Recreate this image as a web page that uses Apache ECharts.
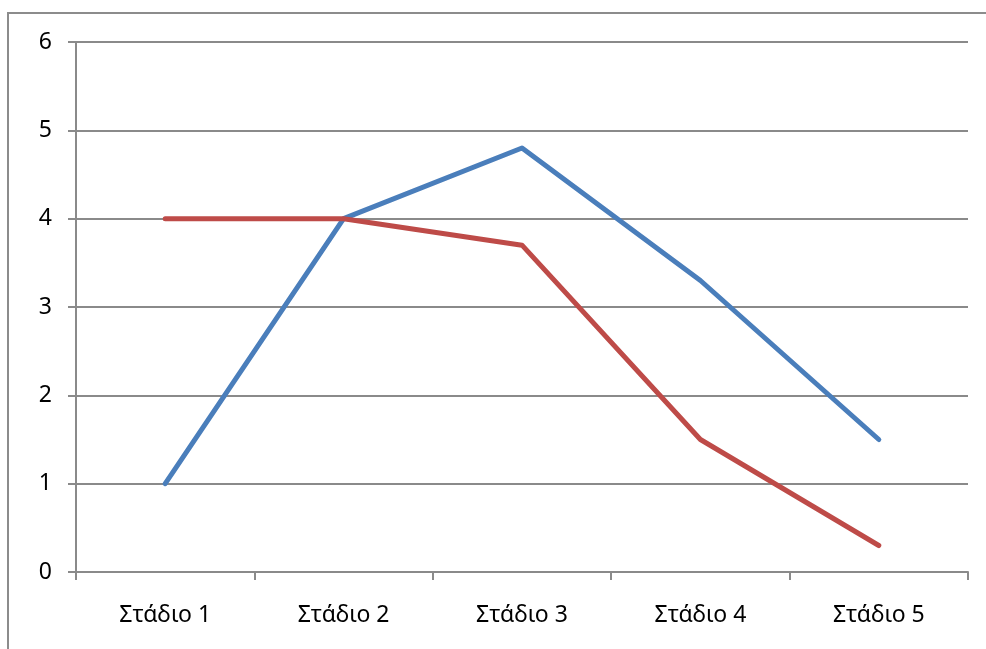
<!DOCTYPE html>
<html>
<head>
<meta charset="utf-8">
<script src="https://cdn.jsdelivr.net/npm/echarts@6/dist/echarts.min.js"></script>
<style>
  html, body { margin: 0; padding: 0; background: #fff; }
  #chart { width: 986px; height: 649px; }
</style>
</head>
<body>
<div id="chart"></div>
<script>
// Stages along the horizontal axis
const categories = ['Στάδιο 1', 'Στάδιο 2', 'Στάδιο 3', 'Στάδιο 4', 'Στάδιο 5'];
// Two series of scores per stage
const seriesBlue = [1, 4, 4.8, 3.3, 1.5];
const seriesRed = [4, 4, 3.7, 1.5, 0.3];

const chart = echarts.init(document.getElementById('chart'));
const font = '"Noto Sans", "DejaVu Sans", sans-serif';
const axisGray = '#8a8a8a';

chart.setOption({
  animation: false,
  backgroundColor: '#fff',
  graphic: [{
    type: 'rect',
    shape: { x: 8, y: 13, width: 1100, height: 800 },
    style: { fill: 'none', stroke: '#8c8c8c', lineWidth: 2 },
    silent: true
  }],
  grid: { left: 76, right: 18, top: 42, bottom: 77, containLabel: false },
  xAxis: {
    type: 'category',
    data: categories,
    boundaryGap: true,
    axisLine: { show: true, lineStyle: { color: axisGray, width: 2 } },
    axisTick: { show: true, length: 8, inside: false, lineStyle: { color: axisGray, width: 2 } },
    axisLabel: { color: '#000', fontFamily: font, fontSize: 23, margin: 32 },
    splitLine: { show: false }
  },
  yAxis: {
    type: 'value',
    min: 0, max: 6, interval: 1,
    axisLine: { show: true, lineStyle: { color: axisGray, width: 2 } },
    axisTick: { show: true, length: 8, lineStyle: { color: axisGray, width: 2 } },
    axisLabel: { color: '#000', fontFamily: font, fontSize: 23, margin: 24 },
    splitLine: { show: true, lineStyle: { color: axisGray, width: 2 } }
  },
  series: [
    {
      type: 'line', data: seriesBlue, symbol: 'none',
      lineStyle: { color: '#4a7ebb', width: 5, cap: 'round', join: 'round' },
      itemStyle: { color: '#4a7ebb' }
    },
    {
      type: 'line', data: seriesRed, symbol: 'none',
      lineStyle: { color: '#be4b48', width: 5, cap: 'round', join: 'round' },
      itemStyle: { color: '#be4b48' }
    }
  ]
});
</script>
</body>
</html>
